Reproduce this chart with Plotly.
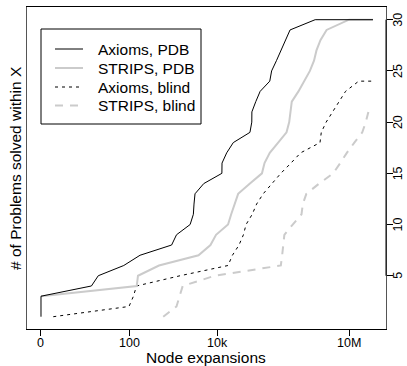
import math
import plotly.graph_objects as go

# Node expansions (x) vs number of problems solved (y)
axioms_pdb_x = [1, 1, 1, 14, 20, 76, 178, 930, 1200, 2450, 2900, 3000, 3160, 5000,
                12900, 13000, 16600, 23400, 56000, 61700, 62000, 76000, 95500, 158000,
                174000, 224000, 282000, 363000, 457000, 1700000, 35000000]
axioms_pdb_y = [1, 2, 3, 4, 5, 6, 7, 8, 9, 10, 11, 12, 13, 14, 15, 16, 17, 18, 19, 20,
                21, 22, 23, 24, 25, 26, 27, 28, 29, 30, 30]

strips_pdb_x = [1, 150, 160, 480, 3800, 7100, 9500, 17800, 21000, 25100, 30200, 56000,
                105000, 120000, 158000, 245000, 380000, 437000, 468000, 500000, 708000,
                955000, 1290000, 1600000, 1820000, 2240000, 3090000, 10000000, 35000000]
strips_pdb_y = [3, 4, 5, 6, 7, 8, 9, 10, 11, 12, 13, 14, 15, 16, 17, 18, 19, 20, 21, 22,
                23, 24, 25, 26, 27, 28, 29, 30, 30]

axioms_blind_x = [1.9, 100, 126, 148, 1450, 17800, 22400, 31600, 39800, 45700, 63100,
                  79400, 112000, 178000, 282000, 479000, 794000, 2190000, 2340000,
                  3020000, 4170000, 6030000, 8320000, 16600000, 35000000]
axioms_blind_y = [1, 2, 3, 4, 5, 6, 7, 8, 9, 10, 11, 12, 13, 14, 15, 16, 17, 18, 19, 20,
                  21, 22, 23, 24, 24]

strips_blind_x = [600, 1200, 1410, 1660, 8900, 282000, 302000, 316000, 339000, 525000,
                  832000, 891000, 1070000, 2090000, 4370000, 6310000, 8910000, 13200000,
                  20000000, 24000000, 27500000]
strips_blind_y = [1, 2, 3, 4, 5, 6, 7, 8, 9, 10, 11, 12, 13, 14, 15, 16, 17, 18, 19, 20, 21]

series_names = ["Axioms, PDB", "STRIPS, PDB", "Axioms, blind", "STRIPS, blind"]

x_tickvals = [1, 100, 10000, 10000000]
x_ticktext = ["0", "100", "10k", "10M"]
y_tickvals = [5, 10, 15, 20, 25, 30]
y_ticktext = ["5", "10", "15", "20", "25", "30"]

FONT = "Liberation Sans, Arial, Helvetica, sans-serif"
GREY = "#cbcbcb"
styles = [dict(color="black", width=1),
          dict(color=GREY, width=2),
          dict(color="black", width=1, dash="3px,4px"),
          dict(color=GREY, width=2, dash="8px,7px")]
data = [(axioms_pdb_x, axioms_pdb_y), (strips_pdb_x, strips_pdb_y),
        (axioms_blind_x, axioms_blind_y), (strips_blind_x, strips_blind_y)]

fig = go.Figure()
for i in [3, 2, 1, 0]:
    fig.add_trace(go.Scatter(x=data[i][0], y=data[i][1], mode="lines",
                             name=series_names[i], line=styles[i], showlegend=False))

# plot area in pixels: left 27, right 386, top 7, bottom 329
L, R, T, B = 27, 386, 7, 329
W, H = R - L, B - T

def px(x):
    return (x - L) / W

def py(y):
    return (B - y) / H

fig.update_layout(
    width=407, height=366,
    margin=dict(l=L, r=407 - R, t=T, b=366 - B, autoexpand=False),
    paper_bgcolor="white", plot_bgcolor="white",
    font=dict(family=FONT, color="black", size=12),
    showlegend=False,
    xaxis=dict(type="log", range=[-0.318, 7.84], tickvals=x_tickvals, showticklabels=False,
               showgrid=False, zeroline=False, ticks="outside", ticklen=6, tickcolor="black",
               showline=True, linecolor="black", linewidth=1, mirror=True, automargin=False),
    yaxis=dict(range=[-0.2, 31.24], side="right", tickvals=y_tickvals, showticklabels=False,
               showgrid=False, zeroline=False, ticks="outside", ticklen=6, tickcolor="black",
               showline=True, linecolor="#555555", linewidth=1, mirror=True, automargin=False),
)

# tick labels placed through the axes' own scales
for v, t in zip(x_tickvals, x_ticktext):
    fig.add_annotation(text=t, xref="x", yref="paper", x=math.log10(v), y=py(343),
                       xanchor="center", yanchor="middle", showarrow=False,
                       font=dict(size=12.5, family=FONT))
for v, t in zip(y_tickvals, y_ticktext):
    fig.add_annotation(text=t, xref="paper", yref="y", x=px(398), y=v, textangle=-90,
                       xanchor="center", yanchor="middle", showarrow=False,
                       font=dict(size=12.5, family=FONT))

# x-axis title
fig.add_annotation(text="Node expansions", xref="paper", yref="paper",
                   x=px(206), y=py(358), xanchor="center", yanchor="middle",
                   showarrow=False, font=dict(size=15.5, family=FONT))

# darker right axis segment from 5 to 30
fig.add_shape(type="line", xref="paper", yref="y", x0=1, x1=1, y0=5, y1=30,
              line=dict(color="black", width=1), layer="above")

# legend frame
fig.add_shape(type="rect", xref="paper", yref="paper",
              x0=px(41), x1=px(201), y0=py(124), y1=py(29),
              line=dict(color="black", width=1), fillcolor="white", layer="above")
rows = [49, 68, 87, 105.5]
for i, name in enumerate(series_names):
    fig.add_shape(type="line", xref="paper", yref="paper",
                  x0=px(55), x1=px(83), y0=py(rows[i]), y1=py(rows[i]),
                  line=styles[i], layer="above")
    fig.add_annotation(text=name, xref="paper", yref="paper", x=px(96), y=py(rows[i]),
                       xanchor="left", yanchor="middle", showarrow=False,
                       font=dict(size=15.5, family=FONT))

# y-axis title on the left
fig.add_annotation(text="# of Problems solved within X", xref="paper", yref="paper",
                   x=px(15), y=py(168), textangle=-90, showarrow=False,
                   font=dict(size=15.5, family=FONT), xanchor="center", yanchor="middle")

fig.write_html("out.html")
